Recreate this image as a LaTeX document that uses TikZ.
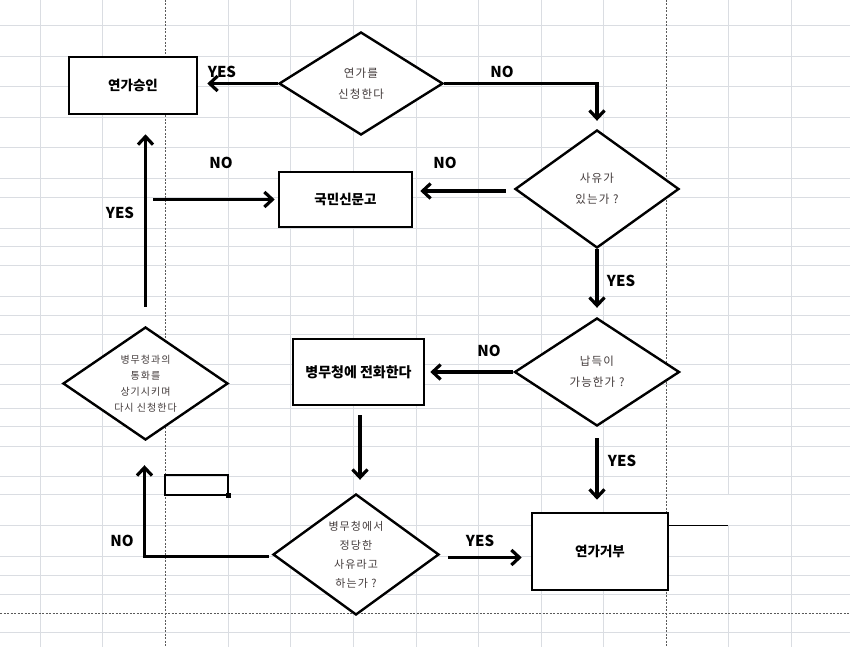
\documentclass[tikz,border=0pt]{standalone}
\usepackage{fontspec}
\setmainfont{Noto Sans CJK KR}
\newfontfamily\dfont[LetterSpace=10]{Noto Sans CJK KR}
\usetikzlibrary{shapes.geometric,arrows.meta,calc}
\definecolor{gridc}{RGB}{218,221,226}
\definecolor{pgbrk}{RGB}{90,90,90}
\definecolor{dtext}{RGB}{68,60,60}
\tikzset{
  boxn/.style={draw=black,line width=2.6pt,fill=white,inner sep=0pt,font=\fontsize{13.5}{16}\selectfont\bfseries},
  diam/.style={diamond,draw=black,line width=2.4pt,fill=white,inner sep=0pt,align=center,text=dtext,font=\dfont\fontsize{11.5}{21}\selectfont},
  arr/.style={line width=3.6pt,-{Straight Barb[length=8pt,width=15pt,line width=3.2pt]}},
  lab/.style={font=\fontsize{15}{18}\selectfont\bfseries},
  gridl/.style={gridc,line width=0.9pt},
  brk/.style={pgbrk,line width=0.8pt,dash pattern=on 2pt off 1.5pt}
}
\begin{document}
\begin{tikzpicture}[x=1pt,y=-1pt]
\useasboundingbox (0,0) rectangle (850,647);
\fill[white] (0,0) rectangle (850,647);
% grid
\foreach \yy in {25,56,86,117,147,178,197,228,246,265,296,315,334,364,384,408,426,446,476,494,525,556,575,594,632}
  \draw[gridl] (0,\yy) -- (850,\yy);
\foreach \xx in {40,102,228,290,353,416,478,541,603,791}
  \draw[gridl] (\xx,0) -- (\xx,647);
\draw[gridl] (728,0) -- (728,494);
\draw[gridl] (728,525) -- (728,647);
\draw[brk] (165,0) -- (165,647);
\draw[brk] (666,0) -- (666,647);
\draw[brk] (0,613) -- (850,613);
% selected cell
\draw[black,line width=1.6pt] (165,475) rectangle (228,495);
\fill[black] (225.5,492.5) rectangle (230.5,497.5);
% nodes
\node[boxn,minimum width=128pt,minimum height=57pt] (approve) at (133,85.5) {연가승인};
\node[diam,minimum width=164pt,minimum height=103pt,aspect=1.7] (apply) at (361,83.5) {연가를\\신청한다};
\node[diam,minimum width=164pt,minimum height=118pt,aspect=1.5] (reason) at (597,189) {사유가\\있는가 ?};
\node[boxn,minimum width=133pt,minimum height=55pt] (petition) at (345.5,199.5) {국민신문고};
\node[diam,minimum width=165pt,minimum height=108pt,aspect=1.6] (convince) at (597,372) {납득이\\가능한가 ?};
\node[boxn,minimum width=131pt,minimum height=66pt,font=\fontsize{14}{17}\selectfont\bfseries] (call) at (358.5,372) {병무청에 전화한다};
\node[diam,minimum width=166pt,minimum height=121pt,aspect=1.5,font=\dfont\fontsize{11}{19}\selectfont] (valid) at (356,554.5) {병무청에서\\정당한\\사유라고\\하는가 ?};
\node[boxn,minimum width=136pt,minimum height=77pt] (reject) at (600,551.5) {연가거부};
\node[diam,minimum width=165pt,minimum height=113pt,aspect=1.5,font=\dfont\fontsize{10}{16}\selectfont] (retry) at (145.5,383.5) {병무청과의\\통화를\\상기시키며\\다시 신청한다};
\coordinate (br) at (153,199.5);
% connectors
\draw[arr] (apply.west) -- ($(apply.west -| approve.east)+(9,0)$);
\draw[arr] (apply.east) -- (apply.east -| reason.north) -- ($(reason.north)+(0,-8)$);
\draw[arr] ($(reason.west)+(-8,2)$) -- ($(reason.west -| petition.east)+(7,2)$);
\draw[arr] ($(retry.north)+(0,-19)$) -- ($(retry.north |- approve.south)+(0,19)$);
\draw[arr] (br) -- ($(petition.west)+(-3,0)$);
\draw[arr] (reason.south) -- ($(convince.north)+(0,-9)$);
\draw[arr] (convince.west) -- ($(convince.west -| call.east)+(5,0)$);
\draw[arr] ($(call.south)+(1.5,9)$) -- ($(valid.north)+(4,-13)$);
\draw[arr] ($(valid.east)+(8,3)$) -- ($(valid.east -| reject.west)+(-9,3)$);
\draw[arr] ($(convince.south)+(0,11)$) -- ($(convince.south |- reject.north)+(0,-12)$);
\draw[arr] ($(valid.west)+(-3,2)$) -| ($(retry.south)+(-1,24)$);
\draw[black,line width=0.9pt] (reject.east |- 0,525) -- (728,525);
% labels
\node[lab] (l1) at (222,72) {YES};
\node[lab] (l2) at (502,72) {NO};
\node[lab] (l3) at (445,163) {NO};
\node[lab] (l4) at (221,163) {NO};
\node[lab] (l5) at (120,213) {YES};
\node[lab] (l6) at (621,281) {YES};
\node[lab] (l7) at (489,351) {NO};
\node[lab] (l8) at (622,461) {YES};
\node[lab] (l9) at (480,541) {YES};
\node[lab] (l10) at (122,541) {NO};
\end{tikzpicture}
\end{document}
